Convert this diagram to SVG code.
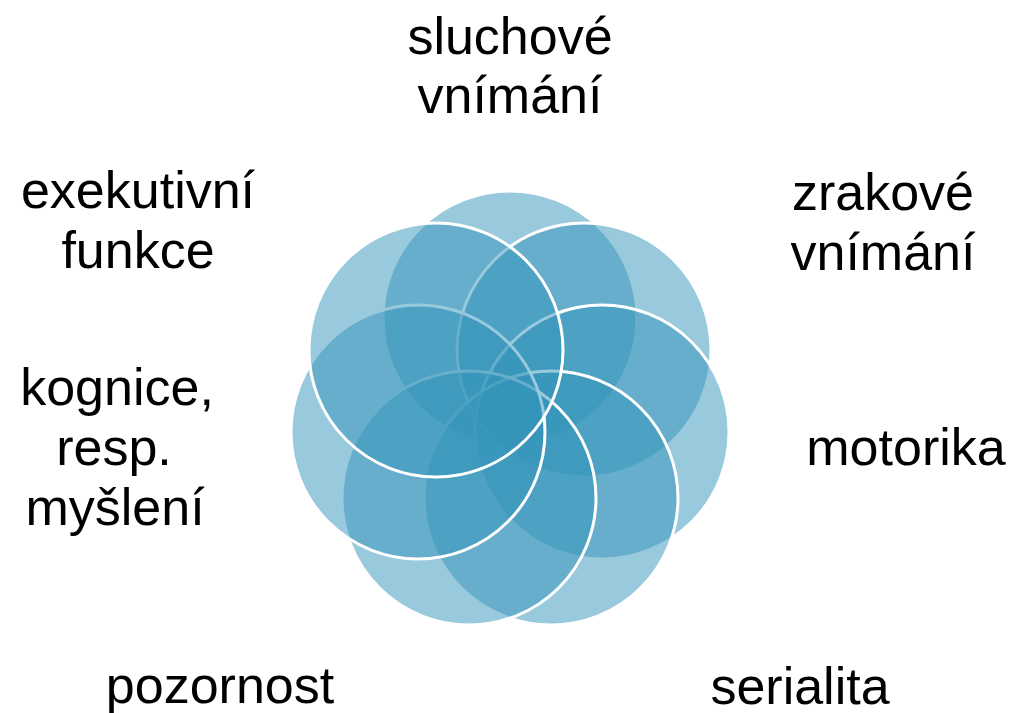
<svg xmlns="http://www.w3.org/2000/svg" width="1020" height="713" viewBox="0 0 1020 713">
<style>
.c{fill:#3494BA;fill-opacity:0.5;stroke:#FFFFFF;stroke-width:3}
.t{font-family:"Liberation Sans",Arial,sans-serif;font-size:52px;fill:#000000;text-anchor:middle}
</style>
<rect width="1020" height="713" fill="#FFFFFF"/>
<g id="circles">
<g id="n1"><circle class="c" cx="510" cy="318" r="127"/></g>
<g id="n2"><circle class="c" cx="584" cy="350" r="127"/></g>
<g id="n3"><circle class="c" cx="602" cy="432" r="127"/></g>
<g id="n4"><circle class="c" cx="551" cy="498" r="127"/></g>
<g id="n5"><circle class="c" cx="469" cy="498" r="127"/></g>
<g id="n6"><circle class="c" cx="418" cy="432" r="127"/></g>
<g id="n7"><circle class="c" cx="436" cy="350" r="127"/></g>
</g>
<g id="labels">
<g id="l1"><text class="t" x="510" y="54">sluchové</text><text class="t" x="510" y="113">vnímání</text></g>
<g id="l2"><text class="t" x="883" y="210">zrakové</text><text class="t" x="883" y="270">vnímání</text></g>
<g id="l3"><text class="t" x="906" y="465">motorika</text></g>
<g id="l4"><text class="t" x="800" y="704">serialita</text></g>
<g id="l5"><text class="t" x="220" y="703">pozornost</text></g>
<g id="l6"><text class="t" x="117" y="405">kognice,</text><text class="t" x="114" y="465">resp.</text><text class="t" x="115" y="525">myšlení</text></g>
<g id="l7"><text class="t" x="138" y="208">exekutivní</text><text class="t" x="138" y="268">funkce</text></g>
</g>
</svg>
